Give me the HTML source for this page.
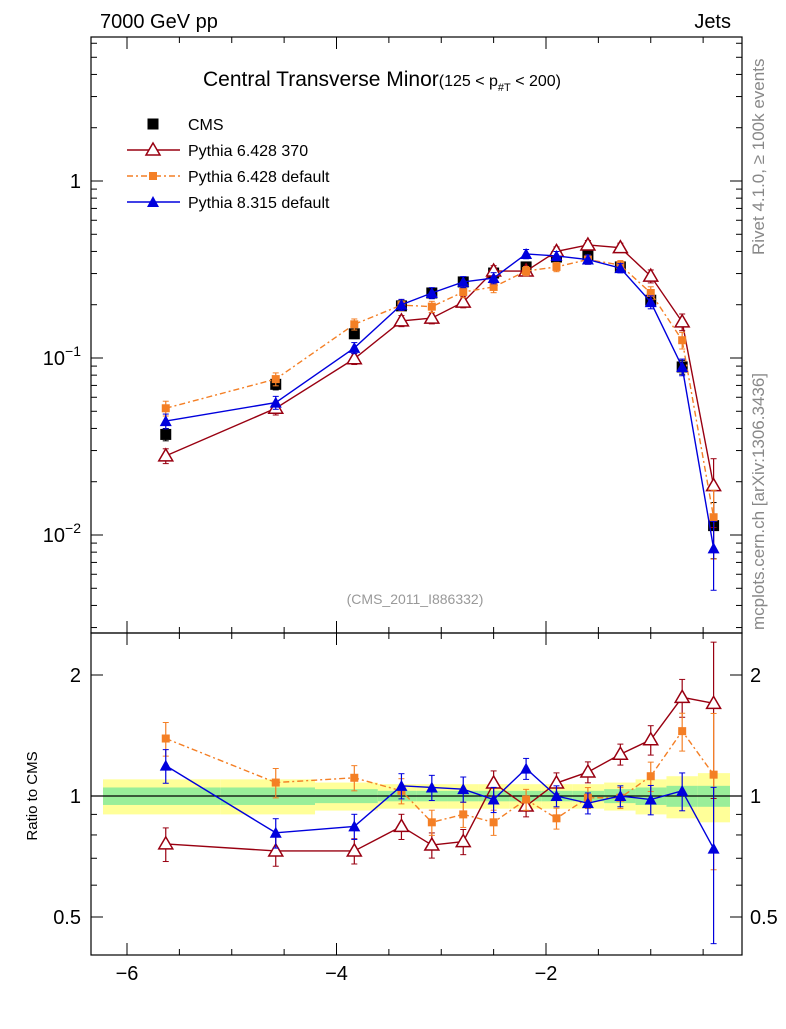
<!DOCTYPE html>
<html><head><meta charset="utf-8">
<style>
body{margin:0;background:#fff;}
svg text{font-family:"Liberation Sans",sans-serif;}
</style></head>
<body>
<svg id="c" width="786" height="1024" xmlns="http://www.w3.org/2000/svg">
<text x="100" y="28" font-size="20">7000 GeV pp</text>
<text x="731" y="28" font-size="20" text-anchor="end">Jets</text>
<text x="203" y="86" font-size="21">Central Transverse Minor<tspan font-size="16">(125 &lt; p</tspan><tspan font-size="11" dy="5">#T</tspan><tspan font-size="16" dy="-5">  &lt; 200)</tspan></text>
<text x="415" y="604" font-size="14" fill="#999" text-anchor="middle">(CMS_2011_I886332)</text>
<text transform="translate(764,255) rotate(-90)" font-size="17" fill="#888">Rivet 4.1.0, ≥ 100k events</text>
<text transform="translate(764,630) rotate(-90)" font-size="17" fill="#888">mcplots.cern.ch [arXiv:1306.3436]</text>
<text transform="translate(37,796) rotate(-90)" font-size="15" text-anchor="middle">Ratio to CMS</text>
<g id="legend"></g>
<g id="main"></g>
<g id="ratio"></g>
</svg>
<script>
const xs=[-5.63,-4.58,-3.83,-3.38,-3.09,-2.79,-2.50,-2.19,-1.90,-1.60,-1.29,-1.00,-0.70,-0.40];
const cms=[0.037,0.071,0.137,0.197,0.233,0.269,0.302,0.327,0.372,0.382,0.327,0.212,0.089,0.0113];
const py6_370=[0.028,0.052,0.099,0.162,0.168,0.207,0.31,0.31,0.40,0.435,0.42,0.29,0.16,0.019];
const py6_def=[0.052,0.076,0.155,0.199,0.195,0.236,0.252,0.31,0.327,0.36,0.335,0.233,0.126,0.0126];
const py8_def=[0.044,0.056,0.114,0.2,0.233,0.269,0.283,0.387,0.377,0.36,0.322,0.207,0.089,0.0084];
const r_370=[0.76,0.73,0.73,0.84,0.755,0.77,1.077,0.944,1.077,1.147,1.27,1.38,1.76,1.70];
const r_6def=[1.39,1.08,1.11,1.03,0.86,0.90,0.86,0.98,0.88,0.99,0.99,1.12,1.45,1.13];
const r_8def=[1.19,0.81,0.84,1.06,1.05,1.04,0.98,1.17,1.0,0.96,1.0,0.98,1.03,0.74];
const relErr=[0.08,0.07,0.06,0.06,0.06,0.06,0.06,0.05,0.05,0.05,0.05,0.07,0.09,0.35];
const greenBand=[0.05,0.05,0.04,0.03,0.03,0.03,0.03,0.03,0.03,0.03,0.04,0.05,0.06,0.06];
const yellowBand=[0.10,0.10,0.08,0.07,0.07,0.07,0.07,0.07,0.07,0.07,0.08,0.10,0.12,0.14];
const xTicks=[-6,-4,-2];
const yMainTicks=[1,0.1,0.01];
const yRatioTicks=[2,1,0.5];

const NS="http://www.w3.org/2000/svg";
const L=91,R=742,MT=37,MB=633,RT=633,RB=955;
const X=v=>127+(v+6)*104.75;
const YM=v=>181-Math.log10(v)*177;
const YR=v=>796-Math.log2(v)*121;
function el(p,t,a){const e=document.createElementNS(NS,t);for(const k in a)e.setAttribute(k,a[k]);p.appendChild(e);return e;}
const svg=document.getElementById('c');
const main=document.getElementById('main'),ratio=document.getElementById('ratio');

const edges=xs.map((x,i)=>i==0?X(-6)-16:(X(xs[i-1])+X(x))/2);edges.push(R-12);
edges[0]=103;
for(let i=0;i<xs.length;i++){
 const y=el(ratio,'rect',{x:edges[i],width:edges[i+1]-edges[i],y:YR(1+yellowBand[i]),height:YR(1-yellowBand[i])-YR(1+yellowBand[i]),fill:'#ffff99'});
 
 
 const g=el(ratio,'rect',{x:edges[i],width:edges[i+1]-edges[i],y:YR(1+greenBand[i]),height:YR(1-greenBand[i])-YR(1+greenBand[i]),fill:'#99ee99'});
 
 
}
el(ratio,'line',{x1:L,x2:R,y1:YR(1),y2:YR(1),stroke:'#000','stroke-width':1.2});

const f1=el(svg,'rect',{x:L,y:MT,width:R-L,height:MB-MT,fill:'none',stroke:'#000','stroke-width':1.2});

const f2=el(svg,'rect',{x:L,y:RT,width:R-L,height:RB-RT,fill:'none',stroke:'#000','stroke-width':1.2});


for(let v=-6.5;v<=-0.2;v+=0.5){const px=X(v);if(px<L||px>R)continue;const big=Math.abs(v-Math.round(v))<1e-6&&Math.round(v)%2==0;const len=big?12:6;
 el(svg,'line',{x1:px,x2:px,y1:MB,y2:MB-len,stroke:'#000'});el(svg,'line',{x1:px,x2:px,y1:RB,y2:RB-len,stroke:'#000'});
 el(svg,'line',{x1:px,x2:px,y1:MT,y2:MT+len,stroke:'#000'});el(svg,'line',{x1:px,x2:px,y1:RT,y2:RT+len,stroke:'#000'});}
xTicks.forEach(v=>{const t=el(svg,'text',{x:X(v),y:980,'font-size':20,'text-anchor':'middle'});t.textContent='\u2212'+Math.abs(v);
 });
for(let d=-3;d<=0;d++)for(let m=1;m<10;m++){const v=m*Math.pow(10,d);const py=YM(v);if(py<MT||py>MB)continue;const len=m==1?12:6;
 el(svg,'line',{x1:L,x2:L+len,y1:py,y2:py,stroke:'#000'});el(svg,'line',{x1:R,x2:R-len,y1:py,y2:py,stroke:'#000'});}
yMainTicks.forEach(v=>{const t=el(svg,'text',{x:81,y:YM(v)+7,'font-size':20,'text-anchor':'end'});
 const e=Math.round(Math.log10(v));
 if(e==0)t.textContent='1';else{t.textContent='10';const s=el(t,'tspan',{dy:-9,'font-size':14});s.textContent='\u2212'+Math.abs(e);}
 });
[0.5,0.6,0.7,0.8,0.9,1,2].forEach(v=>{const py=YR(v);const len=(v==1||v==2||v==0.5)?12:6;
 el(svg,'line',{x1:L,x2:L+len,y1:py,y2:py,stroke:'#000'});el(svg,'line',{x1:R,x2:R-len,y1:py,y2:py,stroke:'#000'});});
yRatioTicks.forEach(v=>{[81,750].forEach((x,k)=>{const t=el(svg,'text',{x:x,y:YR(v)+7,'font-size':20,'text-anchor':k?'start':'end'});t.textContent=String(v);
 });});

function marker(g,type,x,y,col){
 if(type=='sq')return el(g,'rect',{x:x-5.5,y:y-5.5,width:11,height:11,fill:col});
 if(type=='sqs')return el(g,'rect',{x:x-4,y:y-4,width:8,height:8,fill:col});
 if(type=='tri')return el(g,'path',{d:`M${x},${y-7}L${x+7},${y+5}L${x-7},${y+5}Z`,fill:'#fff',stroke:col,'stroke-width':1.5});
 if(type=='trif')return el(g,'path',{d:`M${x},${y-6}L${x+6},${y+5}L${x-6},${y+5}Z`,fill:col});
}
function series(par,vals,Y,col,type,dash,name,errs,line){
 const g=el(par,'g',{});
 if(line){el(g,'polyline',{points:xs.map((x,i)=>X(x)+','+Y(vals[i])).join(' '),fill:'none',stroke:col,'stroke-width':1.4,'stroke-dasharray':dash||''});}
 xs.forEach((x,i)=>{const v=vals[i],e=errs[i];
  el(g,'line',{x1:X(x),x2:X(x),y1:Y(v*(1+e)),y2:Y(Math.max(v*(1-e),1e-4)),stroke:col,'stroke-width':1.2});
  el(g,'line',{x1:X(x)-3,x2:X(x)+3,y1:Y(v*(1+e)),y2:Y(v*(1+e)),stroke:col});
  el(g,'line',{x1:X(x)-3,x2:X(x)+3,y1:Y(v*(1-e)),y2:Y(v*(1-e)),stroke:col});
  const m=marker(g,type,X(x),Y(v),col);});
}
const sErr=relErr.map(e=>e*1.2);
series(main,cms,YM,'#000','sq','', 'cms-data',relErr,false);
series(main,py6_370,YM,'#990011','tri','', 'pythia6-370',sErr,true);
series(main,py6_def,YM,'#f47f25','sqs','6,3,2,3','pythia6-default',sErr,true);
series(main,py8_def,YM,'#0000dd','trif','', 'pythia8-default',sErr,true);
series(ratio,r_370,YR,'#990011','tri','', 'ratio-pythia6-370',sErr,true);
series(ratio,r_6def,YR,'#f47f25','sqs','6,3,2,3','ratio-pythia6-default',sErr,true);
series(ratio,r_8def,YR,'#0000dd','trif','', 'ratio-pythia8-default',sErr,true);

const lg=document.getElementById('legend');
const items=[['CMS','#000','sq',''],['Pythia 6.428 370','#990011','tri',''],['Pythia 6.428 default','#f47f25','sqs','6,3,2,3'],['Pythia 8.315 default','#0000dd','trif','']];
items.forEach((it,i)=>{const y=124+i*26;const g=el(lg,'g',{});
 
 if(i>0)el(g,'line',{x1:127,x2:180,y1:y,y2:y,stroke:it[1],'stroke-width':1.4,'stroke-dasharray':it[3]});
 marker(g,it[2],153,y,it[1]);
 const t=el(g,'text',{x:188,y:y+6,'font-size':16});t.textContent=it[0];});
</script>
</body></html>
